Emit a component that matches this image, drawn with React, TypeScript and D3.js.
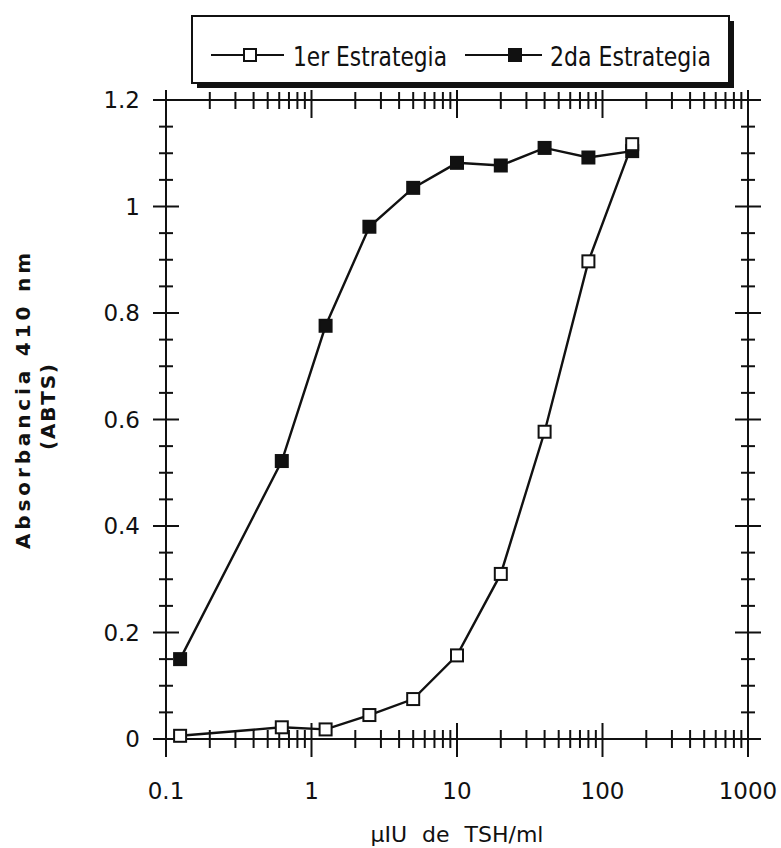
import React, { useEffect, useRef } from 'react';
import * as d3 from 'd3';

// TSH concentration (µIU/ml) for each dilution point
const concentrations = [0.125, 0.625, 1.25, 2.5, 5, 10, 20, 40, 80, 160];
// absorbance readings at 410 nm
const estrategia1 = [0.006, 0.022, 0.018, 0.045, 0.075, 0.157, 0.31, 0.577, 0.897, 1.117];
const estrategia2 = [0.15, 0.522, 0.776, 0.962, 1.035, 1.082, 1.077, 1.11, 1.092, 1.104];

const seriesNames = ['1er Estrategia', '2da Estrategia'];
const xTickLabels = ['0.1', '1', '10', '100', '1000'];
const yTickLabels = ['0', '0.2', '0.4', '0.6', '0.8', '1', '1.2'];

const W = 781;
const H = 848;
const FONT = '"DejaVu Sans", sans-serif';
const NARROW = '"Liberation Sans Narrow", "DejaVu Sans Condensed", sans-serif';

const App = () => {
  const ref = useRef<HTMLDivElement>(null);

  useEffect(() => {
    document.body.style.margin = '0';
    draw(ref.current);
  }, []);

  const draw = (element: HTMLDivElement | null) => {
    if (!element) return;
    d3.select(element).select('svg').remove();

    const svg = d3.select(element)
      .append('svg')
      .attr('width', W)
      .attr('height', H)
      .style('display', 'block')
      .style('background', '#fff');

    const x = d3.scaleLog().domain([0.1, 1000]).range([166, 748]);
    const y = d3.scaleLinear().domain([0, 1.2]).range([739, 100]);
    const [x0, x1] = x.range();
    const [y0, y1] = y.range();

    const ink = '#111';

    // frame
    svg.append('rect')
      .attr('x', x0).attr('y', y1)
      .attr('width', x1 - x0).attr('height', y0 - y1)
      .attr('fill', 'none').attr('stroke', ink).attr('stroke-width', 2);

    // x ticks: decades long, 2..9 short, on top and bottom axes
    const minorX: number[] = [];
    for (let e = -1; e < 3; e++) {
      for (let m = 2; m <= 9; m++) minorX.push(m * Math.pow(10, e));
    }
    const majorX = xTickLabels.map(Number);
    const g = svg.append('g').attr('stroke', ink).attr('stroke-width', 2);
    minorX.forEach((v) => {
      g.append('line').attr('x1', x(v)).attr('x2', x(v)).attr('y1', y0 - 9).attr('y2', y0 + 9);
      g.append('line').attr('x1', x(v)).attr('x2', x(v)).attr('y1', y1 - 8).attr('y2', y1 + 9);
    });
    majorX.forEach((v) => {
      g.append('line').attr('x1', x(v)).attr('x2', x(v)).attr('y1', y0 - 16).attr('y2', y0 + 18);
      g.append('line').attr('x1', x(v)).attr('x2', x(v)).attr('y1', y1 - 10).attr('y2', y1 + 18);
    });

    // y ticks: every 0.2 long, every 0.05 short, on left and right axes
    d3.range(0, 1.2001, 0.05).forEach((v, i) => {
      const half = i % 4 === 0 ? 13 : 7;
      [x0, x1].forEach((ax) => {
        g.append('line').attr('x1', ax - half).attr('x2', ax + half).attr('y1', y(v)).attr('y2', y(v));
      });
    });

    // tick labels
    svg.append('g').selectAll('text').data(xTickLabels).enter()
      .append('text')
      .attr('x', (d) => x(+d)).attr('y', 799)
      .attr('text-anchor', 'middle')
      .attr('font-family', FONT).attr('font-size', 23).attr('fill', ink)
      .text((d) => d);

    svg.append('g').selectAll('text').data(yTickLabels).enter()
      .append('text')
      .attr('x', 140).attr('y', (d) => y(+d) + 8)
      .attr('text-anchor', 'end')
      .attr('font-family', FONT).attr('font-size', 23).attr('fill', ink)
      .text((d) => d);

    // axis titles
    svg.append('text')
      .attr('x', 457).attr('y', 842)
      .attr('text-anchor', 'middle')
      .attr('font-family', FONT).attr('font-size', 22).attr('fill', ink)
      .attr('word-spacing', 8)
      .text('µIU de TSH/ml');

    const yt = svg.append('g').attr('transform', 'translate(0,401) rotate(-90)');
    yt.append('text')
      .attr('x', 0).attr('y', 30)
      .attr('text-anchor', 'middle')
      .attr('font-family', FONT).attr('font-weight', 'bold').attr('font-size', 20).attr('fill', ink)
      .attr('textLength', 296).attr('lengthAdjust', 'spacing')
      .text('Absorbancia 410 nm');
    yt.append('text')
      .attr('x', -6).attr('y', 55)
      .attr('text-anchor', 'middle')
      .attr('font-family', FONT).attr('font-weight', 'bold').attr('font-size', 20).attr('fill', ink)
      .attr('textLength', 86).attr('lengthAdjust', 'spacing')
      .text('(ABTS)');

    // lines and markers
    const line = d3.line<number>()
      .x((_, i) => x(concentrations[i]))
      .y((d) => y(d));

    const series = [
      { values: estrategia1, fill: '#fff' },
      { values: estrategia2, fill: ink },
    ];
    const size = 12;
    // draw the filled series first so the open square sits on top at the end
    [series[1], series[0]].forEach((s) => {
      svg.append('path')
        .attr('d', line(s.values))
        .attr('fill', 'none').attr('stroke', ink).attr('stroke-width', 2.4);
    });
    [series[1], series[0]].forEach((s) => {
      svg.append('g').selectAll('rect').data(s.values).enter()
        .append('rect')
        .attr('x', (_, i) => x(concentrations[i]) - size / 2)
        .attr('y', (d) => y(d) - size / 2)
        .attr('width', size).attr('height', size)
        .attr('fill', s.fill).attr('stroke', ink).attr('stroke-width', 2);
    });

    // legend with drop shadow
    const lx = 192, ly = 16, lw = 537, lh = 67;
    svg.append('rect').attr('x', lx + 5).attr('y', ly + 5).attr('width', lw).attr('height', lh).attr('fill', ink);
    svg.append('rect').attr('x', lx).attr('y', ly).attr('width', lw).attr('height', lh)
      .attr('fill', '#fff').attr('stroke', ink).attr('stroke-width', 2);

    const items = [
      { name: seriesNames[0], fill: '#fff', x1: 211, x2: 284, mx: 250, text: 293, len: 154 },
      { name: seriesNames[1], fill: ink, x1: 465, x2: 542, mx: 515, text: 550, len: 161 },
    ];
    const cy = 55;
    items.forEach((it) => {
      svg.append('line').attr('x1', it.x1).attr('x2', it.x2).attr('y1', cy).attr('y2', cy)
        .attr('stroke', ink).attr('stroke-width', 2);
      svg.append('rect').attr('x', it.mx - 6).attr('y', cy - 6).attr('width', 12).attr('height', 12)
        .attr('fill', it.fill).attr('stroke', ink).attr('stroke-width', 2);
      svg.append('text')
        .attr('x', it.text).attr('y', cy + 11)
        .attr('font-family', NARROW).attr('font-size', 27).attr('fill', ink)
        .attr('textLength', it.len).attr('lengthAdjust', 'spacingAndGlyphs')
        .text(it.name);
    });
  };

  return <div ref={ref}></div>;
};

export default App;
